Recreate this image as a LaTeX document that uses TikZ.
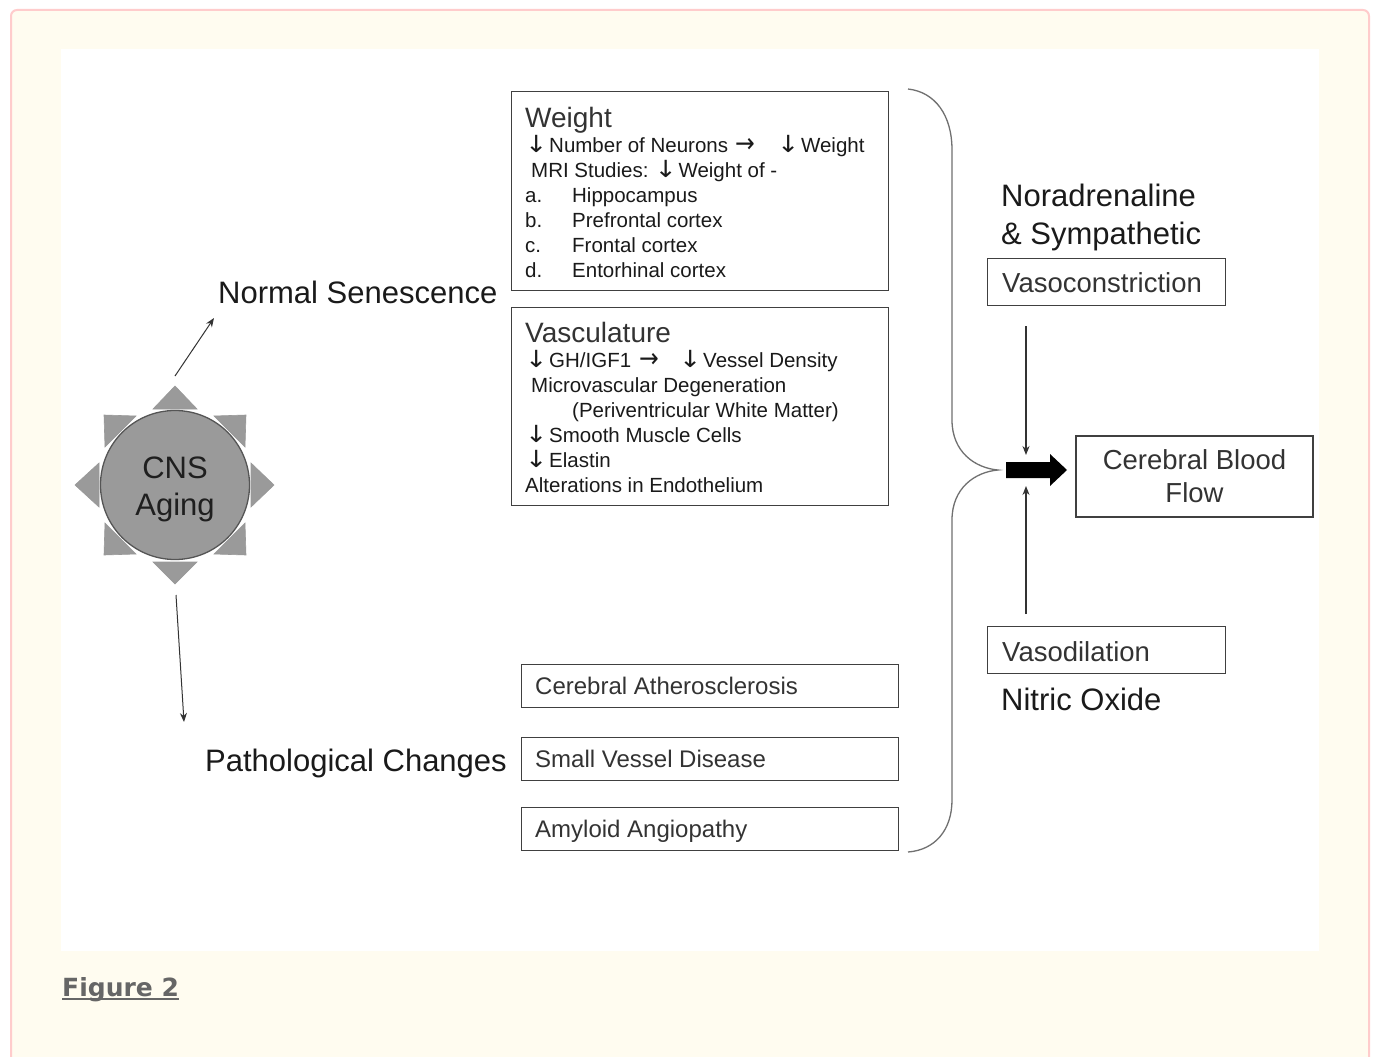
\documentclass[tikz,border=0pt]{standalone}
\usepackage{fontspec}
\setmainfont{Liberation Sans}
\newfontfamily\djv{DejaVu Sans}
\newcommand{\dn}{\makebox[24pt][l]{\scalebox{1.3}[1.15]{\djv ↓}}}
\newcommand{\rt}{\scalebox{1.15}[1.3]{\djv →}}
\usetikzlibrary{arrows.meta,calc}
\definecolor{cream}{HTML}{FFFCF0}
\definecolor{pinkb}{HTML}{FFCCCC}
\definecolor{boxline}{HTML}{404040}
\definecolor{txtc}{HTML}{1A1A1A}
\definecolor{headc}{HTML}{333333}
\definecolor{bracec}{HTML}{707070}
\definecolor{cnsfill}{HTML}{9A9A9A}
\definecolor{cnsline}{HTML}{555555}
\definecolor{figc}{HTML}{666666}
\tikzset{
  box/.style={draw=boxline, line width=1.3pt, inner sep=0pt, anchor=north west},
  txt/.style={inner sep=0pt, anchor=base west, text=txtc},
  big/.style={txt, font=\fontsize{31}{38}\selectfont},
  small/.style={txt, font=\fontsize{20.5}{25}\selectfont},
  head/.style={txt, text=headc, font=\fontsize{28}{28}\selectfont},
  mid/.style={txt, text=headc, font=\fontsize{24}{28}\selectfont},
  lab/.style={txt, text=headc, font=\fontsize{27.5}{33}\selectfont},
  tri/.style={fill=cnsfill, draw=cnsline!60, line width=0.6pt},
  thin/.style={draw=black!80, line width=1.2pt, -{Stealth[length=9pt,width=7pt]}},
}
\begin{document}
\begin{tikzpicture}[x=1pt,y=-1pt]
\useasboundingbox (0,0) rectangle (1374,1057);
% page background
\fill[white] (0,0) rectangle (1374,1057);
\draw[fill=cream, draw=pinkb, line width=2pt, rounded corners=6pt] (11,10) rectangle (1369,1075);
\fill[white] (61,49) rectangle (1319,951);

% CNS aging
\fill[tri] (153,409) -- (175,386) -- (197,409) -- cycle;
\fill[tri] (153,562) -- (175,584) -- (197,562) -- cycle;
\fill[tri] (99,463) -- (75,485) -- (99,507) -- cycle;
\fill[tri] (251,463) -- (274,485) -- (251,507) -- cycle;
\fill[tri] (104,415) -- (136,416) -- (105,447) -- cycle;
\fill[tri] (246,415) -- (214,416) -- (245,447) -- cycle;
\fill[tri] (104,555) -- (105,523) -- (136,554) -- cycle;
\fill[tri] (246,555) -- (245,523) -- (214,554) -- cycle;
\node[circle, fill=cnsfill, draw=cnsline, line width=1.3pt, minimum size=149pt, inner sep=0pt] (cns) at (175,485) {};
\node[inner sep=0pt, align=center, text=black!88, font=\fontsize{31}{37}\selectfont] (cnst) at (175,489) {CNS\\Aging};

\coordinate (cnsup) at (175,376);
\coordinate (cnsdown) at (176,595);
\node[big] (normal) at (218,303) {Normal Senescence};
\node[big] (patho) at (205,771) {Pathological Changes};
\coordinate (normtip) at (214,318);
\coordinate (pathtip) at (184,722);
\draw[thin, line width=1pt] (cnsup) -- (normtip);
\draw[thin, line width=1pt] (cnsdown) -- (pathtip);

% Weight box
\node[box, minimum width=377pt, minimum height=199pt] (wbox) at (511,91) {};
\node[head] (w0) at (525,127) {Weight};
\node[small] (w1) at (525,152) {\dn Number of Neurons\hspace{7pt}\makebox[42pt][l]{\rt}\dn Weight};
\node[small] (w2) at (531,177) {MRI Studies:\hspace{6pt}\dn Weight of -};
\node[small] (w3) at (525,202) {\makebox[47pt][l]{a.}Hippocampus};
\node[small] (w4) at (525,227) {\makebox[47pt][l]{b.}Prefrontal cortex};
\node[small] (w5) at (525,252) {\makebox[47pt][l]{c.}Frontal cortex};
\node[small] (w6) at (525,277) {\makebox[47pt][l]{d.}Entorhinal cortex};

% Vasculature box
\node[box, minimum width=377pt, minimum height=198pt] (vbox) at (511,307) {};
\node[head] (v0) at (525,342) {Vasculature};
\node[small] (v1) at (525,367) {\dn GH/IGF1\hspace{8pt}\makebox[40pt][l]{\rt}\dn Vessel Density};
\node[small] (v2) at (531,392) {Microvascular Degeneration};
\node[small] (v3) at (572,417) {(Periventricular White Matter)};
\node[small] (v4) at (525,442) {\dn Smooth Muscle Cells};
\node[small] (v5) at (525,467) {\dn Elastin};
\node[small] (v6) at (525,492) {Alterations in Endothelium};

% pathological boxes
\node[box, minimum width=377pt, minimum height=43pt] (ath) at (521,664) {};
\node[mid] (atht) at (535,694) {Cerebral Atherosclerosis};
\node[box, minimum width=377pt, minimum height=43pt] (svd) at (521,737) {};
\node[mid] (svdt) at (535,767) {Small Vessel Disease};
\node[box, minimum width=377pt, minimum height=43pt] (amy) at (521,807) {};
\node[mid] (amyt) at (535,837) {Amyloid Angiopathy};

% brace
\draw[bracec, line width=1.3pt] (908,89) .. controls (935,92) and (952,115) .. (952,150)
  -- (952,420) .. controls (952,452) and (975,468) .. (998,470)
  .. controls (975,472) and (952,488) .. (952,520)
  -- (952,800) .. controls (952,830) and (935,850) .. (908,852);

% right side
\node[big] (nor) at (1001,206) {Noradrenaline};
\node[big] (symp) at (1001,244) {\& Sympathetic};
\node[box, minimum width=238pt, minimum height=47pt] (vcon) at (987,258) {};
\node[lab] (vcont) at (1002,292) {Vasoconstriction};
\node[box, minimum width=238pt, minimum height=47pt] (vdil) at (987,626) {};
\node[lab] (vdilt) at (1002,661) {Vasodilation};
\node[big] (no) at (1001,710) {Nitric Oxide};
\node[box, anchor=center, minimum width=237pt, minimum height=81pt, align=center,
      text=headc, font=\fontsize{27.5}{33}\selectfont] (cbf) at (1194.5,476.5) {Cerebral Blood\\Flow};

\coordinate (vcs) at (1026,326);
\coordinate (vce) at (1026,455);
\coordinate (vds) at (1026,614);
\coordinate (vde) at (1026,486);
\draw[thin] (vcs) -- (vce);
\draw[thin] (vds) -- (vde);

% big black arrow
\fill[black] (1006,462) -- (1050,462) -- (1050,454) -- (1067,470) -- (1050,486) -- (1050,478) -- (1006,478) -- cycle;

% caption
\node[txt, text=figc, font=\djv\bfseries\fontsize{25}{30}\selectfont] (fig) at (62,996) {Figure 2};
\draw[figc, line width=1.8pt] ($(fig.base west)+(0,3)$) -- ($(fig.base east)+(0,3)$);
\end{tikzpicture}
\end{document}
